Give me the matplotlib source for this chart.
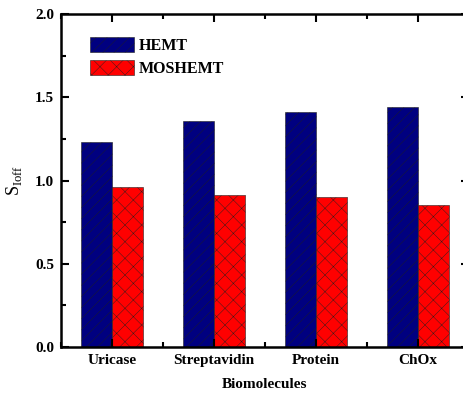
import numpy as np
import matplotlib.pyplot as plt
from matplotlib.ticker import MultipleLocator

biomolecules = ["Uricase", "Streptavidin", "Protein", "ChOx"]
hemt = [1.23, 1.36, 1.41, 1.44]
moshemt = [0.96, 0.915, 0.90, 0.85]

plt.rcParams['font.family'] = ['Liberation Serif', 'DejaVu Serif']
plt.rcParams['hatch.linewidth'] = 0.3

fig = plt.figure(figsize=(4.64, 3.97), dpi=100)
ax = fig.add_axes([61 / 464, 50 / 397, 408 / 464, 333 / 397])

x = np.arange(1, len(biomolecules) + 1)
w = 0.3
ax.bar(x - w / 2, hemt, w, color='#000080', edgecolor='#202020', linewidth=0.4,
       hatch='///', label='HEMT')
ax.bar(x + w / 2, moshemt, w, color='#ff0000', edgecolor='#202020', linewidth=0.4,
       hatch='xx', label='MOSHEMT')

ax.set_xlim(0.5, 4.5)
ax.set_ylim(0, 2.0)
ax.set_xticks(x)
ax.set_xticklabels(biomolecules, fontsize=11, fontweight='bold')
ax.xaxis.set_minor_locator(MultipleLocator(0.5))
ax.yaxis.set_minor_locator(MultipleLocator(0.25))
ax.set_yticks([0, 0.5, 1.0, 1.5, 2.0])
ax.set_yticklabels(['0.0', '0.5', '1.0', '1.5', '2.0'], fontsize=11, fontweight='bold')
ax.tick_params(which='both', direction='in', top=True, right=True, width=1.5)
ax.tick_params(which='major', length=6, pad=5)
ax.tick_params(which='minor', length=3.5)
for s in ax.spines.values():
    s.set_linewidth(1.8)

ax.set_xlabel("Biomolecules", fontsize=11, fontweight='bold', labelpad=8)
ax.set_ylabel(r"S$_{\mathregular{Ioff}}$", fontsize=13, labelpad=8)

ax.legend(loc='upper left', bbox_to_anchor=(0.035, 0.975), frameon=False,
          prop={'weight': 'bold', 'size': 11.5}, handlelength=2.75, handleheight=1.05,
          handletextpad=0.3, labelspacing=0.4)

fig.savefig('out.png', dpi=100)
